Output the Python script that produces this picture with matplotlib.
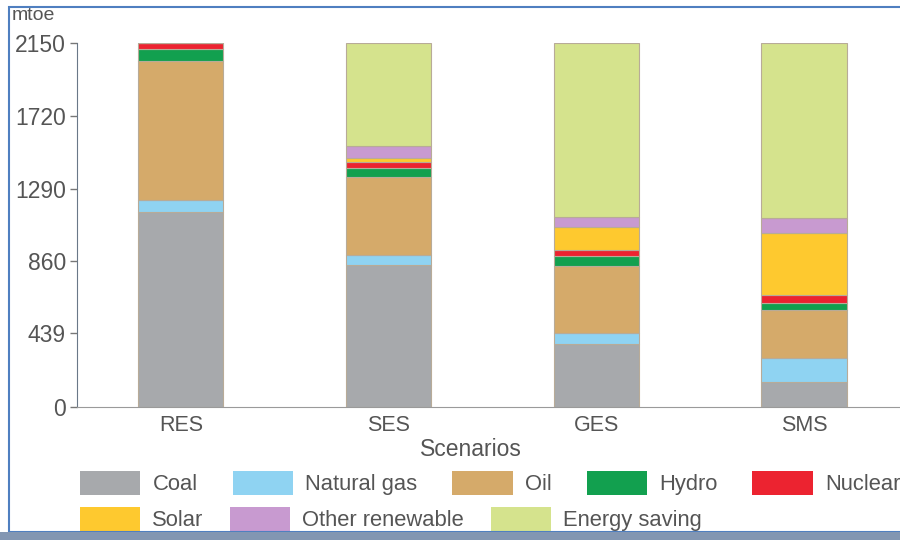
import matplotlib
matplotlib.use("Agg")
import numpy as np
import matplotlib.pyplot as plt
from matplotlib.patches import Patch, Rectangle

scenarios = ['RES', 'SES', 'GES', 'SMS']
sources = ['Coal', 'Natural gas', 'Oil', 'Hydro', 'Nuclear', 'Solar', 'Other renewable', 'Energy saving']
colors = ['#a7a9ac', '#8fd3f2', '#d5aa6a', '#12a04f', '#ec2330', '#fec92f', '#c89ad0', '#d5e38d']

coal = [1150, 840, 370, 150]
natural_gas = [75, 60, 70, 140]
oil = [820, 460, 390, 285]
hydro = [70, 50, 60, 40]
nuclear = [35, 35, 40, 45]
solar = [0, 25, 135, 365]
other_renewable = [0, 70, 60, 90]
energy_saving = [0, 610, 1025, 1035]

yticks = [0, 439, 860, 1290, 1720, 2150]

series = [coal, natural_gas, oil, hydro, nuclear, solar, other_renewable, energy_saving]

font = ['Liberation Sans', 'DejaVu Sans']
txt = '#555555'

fig = plt.figure(figsize=(9, 5.4), dpi=100)
ax = fig.add_axes([77/900, 1 - 407/540, 1 - 77/900, 364/540])

x = np.arange(len(scenarios))
bottom = np.zeros(len(scenarios))
for name, vals, c in zip(sources, series, colors):
    vals = np.array(vals, dtype=float)
    ax.bar(x, vals, 0.41, bottom=bottom, color=c, edgecolor='#b8ab98', linewidth=0.8, label=name)
    bottom += vals

ax.set_xlim(-0.5, 3.462)
ax.set_ylim(0, 2150)
ax.set_yticks(yticks)
ax.set_yticklabels([str(v) for v in yticks], family=font, fontsize=16.5, color=txt)
ax.set_xticks(x)
ax.set_xticklabels(scenarios, family=font, fontsize=15.5, color=txt)
ax.tick_params(axis='x', length=0, pad=6)
ax.tick_params(axis='y', length=5, width=1, color='#777777', pad=3)
for s in ['top', 'right']:
    ax.spines[s].set_visible(False)
ax.spines['left'].set_color('#6a7888')
ax.spines['bottom'].set_color('#9a9a9a')

fig.text(471/900, 1 - 449/540, 'Scenarios', family=font, fontsize=16.5, color=txt,
         ha='center', va='center')
fig.text(12/900, 1 - 15/540, 'mtoe', family=font, fontsize=14, color=txt, va='center')

handles = [Patch(facecolor=c, edgecolor='none') for c in colors]
common = dict(frameon=False, borderpad=0, borderaxespad=0, handlelength=2.75, handleheight=1.3,
              handletextpad=0.55,
              prop={'family': font, 'size': 15.8}, labelcolor=txt, loc='center left')
leg1 = fig.legend(handles[:5], sources[:5], ncol=5, columnspacing=1.6,
                  bbox_to_anchor=(80/900, 1 - 483/540), **common)
leg2 = fig.legend(handles[5:], sources[5:], ncol=3, columnspacing=1.2,
                  bbox_to_anchor=(80/900, 1 - 519/540), **common)

# screenshot frame
fig.add_artist(Rectangle((9/900, 8/540), 1.0, 525/540, transform=fig.transFigure,
                         fill=False, edgecolor='#4f7fc0', linewidth=1.5, zorder=9))
fig.add_artist(Rectangle((0, 0), 1, 8/540, transform=fig.transFigure,
                         facecolor='#8296b2', edgecolor='none', zorder=10))

fig.savefig('out.png', dpi=100)
